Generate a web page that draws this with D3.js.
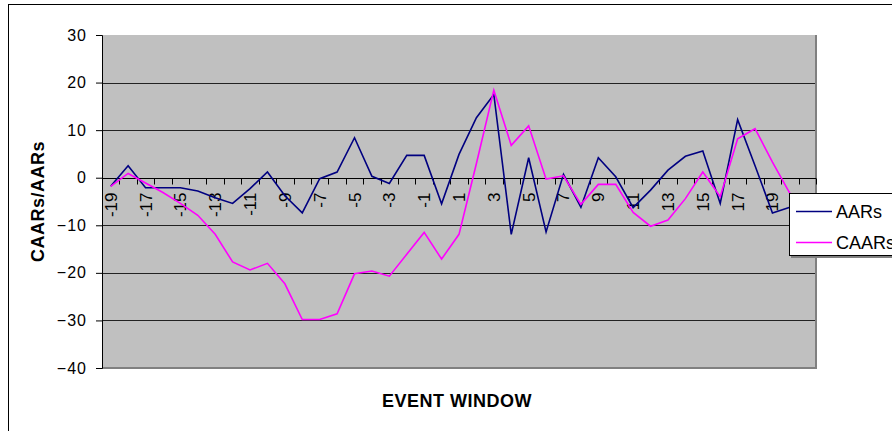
<!DOCTYPE html>
<html><head><meta charset="utf-8">
<script src="https://cdn.jsdelivr.net/npm/d3@7"></script>
<style>
html,body{margin:0;padding:0;background:#fff;}
svg{display:block;font-family:"Liberation Sans",Arial,sans-serif;}
</style></head>
<body>
<svg id="c" width="892" height="431"></svg>
<script>
const categories = [-19,-18,-17,-16,-15,-14,-13,-12,-11,-10,-9,-8,-7,-6,-5,-4,-3,-2,-1,0,1,2,3,4,5,6,7,8,9,10,11,12,13,14,15,16,17,18,19,20,21];
const aars = [-1.8,2.5,-2.1,-2.1,-2.1,-2.8,-4.2,-5.4,-2.3,1.2,-3.8,-7.4,-0.2,1.2,8.4,0.3,-1.2,4.7,4.7,-5.5,4.9,12.6,17.5,-11.9,4.2,-11.4,0.7,-6.2,4.2,0.2,-6.3,-2.6,1.6,4.5,5.6,-5.4,12.2,2.5,-7.4,-6.2,-5.0];
const caars = [-1.8,0.9,-1.1,-3.1,-5.4,-7.9,-11.9,-17.7,-19.4,-18.0,-22.3,-29.8,-29.8,-28.6,-20.2,-19.6,-20.7,-16.1,-11.5,-17.1,-11.9,3.0,18.4,6.8,10.9,-0.3,0.4,-5.6,-1.4,-1.4,-7.3,-10.2,-8.9,-4.4,1.2,-4.0,8.2,10.3,3.3,-3.3,-5.0];
const yTicks = [-40,-30,-20,-10,0,10,20,30];
const xLabels = [-19,-17,-15,-13,-11,-9,-7,-5,-3,-1,1,3,5,7,9,11,13,15,17,19,21];
const seriesNames = ["AARs","CAARs"];
const seriesColors = ["#000080","#FF00FF"];

const svg = d3.select("#c");
const L = 102, R = 816, T = 35, B = 368;

// chart area border
svg.append("rect").attr("x",8.5).attr("y",4.5).attr("width",900).attr("height",440)
  .attr("fill","#fff").attr("stroke","#000").attr("stroke-width",1);

const x = d3.scaleBand().domain(categories).range([L,R]).paddingInner(0).paddingOuter(0);
const y = d3.scaleLinear().domain([-40,30]).range([B,T]);
const cx = c => x(c) + x.bandwidth()/2;

// plot background
svg.append("rect").attr("x",L).attr("y",T).attr("width",R-L).attr("height",B-T).attr("fill","#C0C0C0");

// gridlines
svg.append("g").selectAll("line").data(yTicks.filter(v=>v!==0 && v!==-40 && v!==30)).join("line")
  .attr("x1",L).attr("x2",R).attr("y1",d=>Math.round(y(d))+0.5).attr("y2",d=>Math.round(y(d))+0.5)
  .attr("stroke","#222").attr("stroke-width",1);

// plot border right/bottom
svg.append("path").attr("d",`M${R},${T}V${B}H${L}`).attr("fill","none").attr("stroke","#808080").attr("stroke-width",2);

// y axis
const yAxis = svg.append("g").attr("transform",`translate(${L},0)`)
  .call(d3.axisLeft(y).tickValues(yTicks).tickSize(6).tickPadding(9).tickFormat(d3.format("d")));
yAxis.select(".domain").attr("stroke","#000");
yAxis.selectAll(".tick line").attr("stroke","#000");
yAxis.selectAll("text").attr("font-size","16px").attr("fill","#000").attr("font-family","'Liberation Sans',Arial,sans-serif").attr("letter-spacing","1px");

// x axis at y=0
const y0 = Math.round(y(0))+0.5;
svg.append("line").attr("x1",L).attr("x2",R).attr("y1",y0).attr("y2",y0).attr("stroke","#000").attr("stroke-width",1);
const bounds = categories.map(c=>x(c)).concat([x(categories[categories.length-1])+x.bandwidth()]);
svg.append("g").selectAll("line").data(bounds).join("line")
  .attr("x1",d=>Math.round(d)+0.5).attr("x2",d=>Math.round(d)+0.5).attr("y1",y0).attr("y2",y0+6)
  .attr("stroke","#000");
svg.append("g").selectAll("text").data(xLabels).join("text")
  .attr("transform",d=>`translate(${cx(d)+6},${y0+14}) rotate(-90)`)
  .attr("text-anchor","end").attr("font-size","17px").attr("fill","#000")
  .text(d=>d);

// lines
const line = d3.line().x((d,i)=>cx(categories[i])).y(d=>y(d));
[aars,caars].forEach((s,k)=>{
  svg.append("path").datum(s).attr("d",line).attr("fill","none")
    .attr("stroke",seriesColors[k]).attr("stroke-width",1.6).attr("stroke-linejoin","miter");
});

// axis titles
svg.append("text").attr("transform",`translate(44,${(T+B)/2}) rotate(-90)`).attr("text-anchor","middle")
  .attr("font-size","18px").attr("font-weight","bold").attr("letter-spacing","0.5px").text("CAARs/AARs");
svg.append("text").attr("x",(L+R)/2-2).attr("y",407).attr("text-anchor","middle")
  .attr("font-size","18px").attr("font-weight","bold").attr("letter-spacing","0.5px").text("EVENT WINDOW");

// legend
const lg = svg.append("g").attr("transform","translate(789,193)");
lg.append("rect").attr("x",2).attr("y",2).attr("width",140).attr("height",63).attr("fill","#808080");
lg.append("rect").attr("x",0.5).attr("y",0.5).attr("width",140).attr("height",62).attr("fill","#fff").attr("stroke","#000");
seriesNames.forEach((n,k)=>{
  const yy = 18.5 + k*31;
  lg.append("line").attr("x1",7).attr("x2",43).attr("y1",yy).attr("y2",yy).attr("stroke",seriesColors[k]).attr("stroke-width",1.6);
  lg.append("text").attr("x",47).attr("y",yy+6).attr("font-size","18px").attr("fill","#000").text(n);
});
</script>
</body></html>
